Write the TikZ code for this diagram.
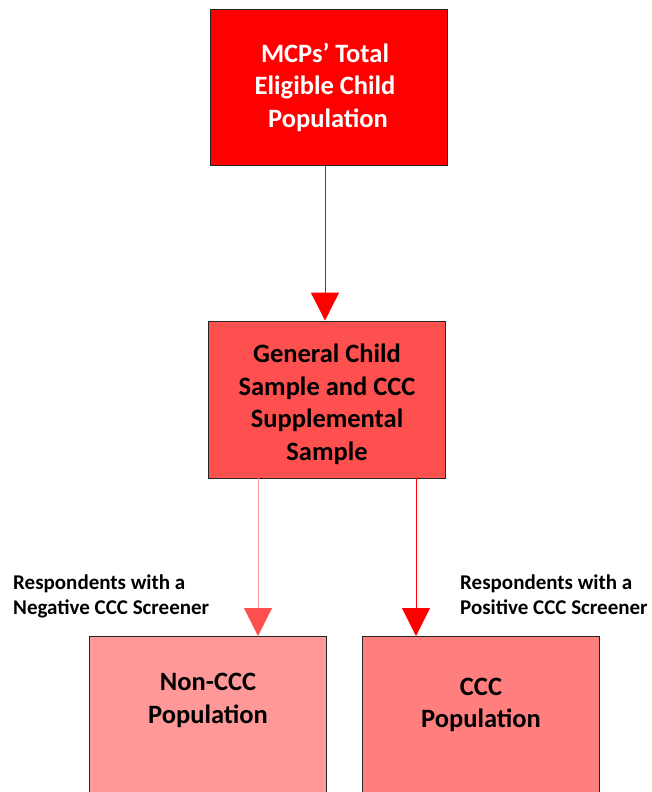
\documentclass[tikz,border=0pt]{standalone}
\usepackage{fontspec}
\setmainfont{Carlito}
\usetikzlibrary{arrows.meta}
\definecolor{TopRed}{RGB}{255, 0, 0}
\definecolor{MidRed}{RGB}{255, 80, 80}
\definecolor{LightRed}{RGB}{255, 153, 153}
\definecolor{SoftRed}{RGB}{255, 127, 127}

\begin{document}
\begin{tikzpicture}[
  x=1pt, y=-1pt,
  font=\bfseries,
  box/.style={draw=black!85, line width=0.8pt, minimum width=237pt, inner sep=0pt},
  txt/.style={align=center, font=\fontsize{26.5}{32.5}\selectfont\bfseries},
  lab/.style={align=left, anchor=west, inner sep=0pt, font=\fontsize{21}{25}\selectfont\bfseries},
  ar/.style={-{Triangle[length=28pt, width=28pt]}, line width=0.8pt}
]
\useasboundingbox (0,0) rectangle (651,792);
\clip (0,0) rectangle (651,792);

\node[box, fill=TopRed, minimum height=156pt] (pop) at (329,87) {};
\node[txt, text=white] (poptxt) at (325,87) {MCPs’ Total\\Eligible Child\\\ Population};

\node[box, fill=MidRed, minimum height=157pt] (smp) at (326.5,399.5) {};
\node[txt] (smptxt) at (327,404.5) {General Child\\Sample and CCC\\Supplemental\\Sample};

\node[box, fill=LightRed, minimum height=190pt, anchor=north] (ncc) at (207.5,636) {};
\node[txt] (ncctxt) at (208,700.5) {Non-CCC\\Population};

\node[box, fill=SoftRed, minimum height=190pt, anchor=north] (ccc) at (481,636) {};
\node[txt] (ccctxt) at (481,705) {CCC\\Population};

\draw[ar, TopRed] (pop.south -| 325,0) -- (smp.north -| 325,0);
\draw[ar, LightRed, -{Triangle[length=28pt, width=28pt, color=MidRed]}]
   (smp.south -| 258,0) -- (ncc.north -| 258,0);
\draw[ar, TopRed] (smp.south -| 416,0) -- (ccc.north -| 416,0);

\node[lab] (neg) at (13,596) {Respondents with a\\Negative CCC Screener};
\node[lab] (posi) at (460,595) {Respondents with a\\Positive CCC Screener};
\end{tikzpicture}
\end{document}
